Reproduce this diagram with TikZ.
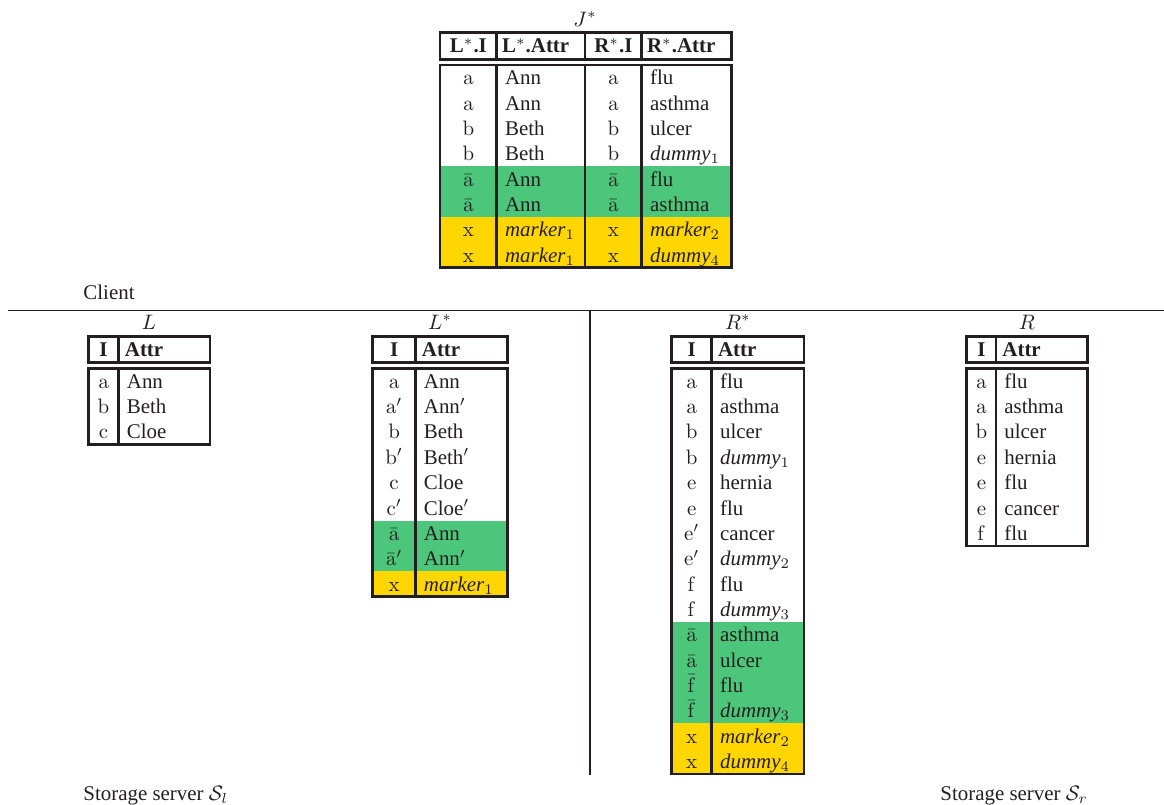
\documentclass[tikz,border=0pt]{standalone}
\usepackage[no-math]{fontspec}
\setmainfont{Liberation Serif}
\usepackage{amsmath}
\usepackage{tikz}
\usepackage{xcolor}
\definecolor{padgreen}{HTML}{4CC67A}
\definecolor{markyellow}{HTML}{FFD600}
\definecolor{ink}{HTML}{231F20}
\newcommand{\tv}[1]{\ensuremath{\mathrm{#1}}}
\newcommand{\tb}[1]{\ensuremath{\bar{\mathrm{#1}}}}
\newcommand{\dmy}[1]{\textit{dummy}$_{#1}$}
\newcommand{\mkr}[1]{\textit{marker}$_{#1}$}

\begin{document}
\begin{tikzpicture}[x=0.478pt, y=-0.478pt, ink,
    box/.style={line width=1.25pt},
    sep/.style={line width=0.9pt},
    idc/.style={anchor=base, inner sep=0pt},
    atc/.style={anchor=base west, inner sep=0pt},
    hd/.style={anchor=base, inner sep=0pt, font=\bfseries}]
    \useasboundingbox (0,0) rectangle (1164,805);
    % join J*
    \node[idc] (tJ) at (585,26) {$J^*$};
    \draw[box] (440,32.3) rectangle (731.7,59.3) (496.7,32.3) -- (496.7,59.3) (585,32.3) -- (585,59.3) (641.7,32.3) -- (641.7,59.3);
    \node[hd] (J-h1) at (468.4,52.8) {L$^*$.I};
    \node[hd, anchor=base west] (J-h2) at (501.7,52.8) {L$^*$.Attr};
    \node[hd] (J-h3) at (613.4,52.8) {R$^*$.I};
    \node[hd, anchor=base west] (J-h4) at (646.7,52.8) {R$^*$.Attr};
    \fill[padgreen] (440,166.4) rectangle (731.7,217.1);
    \fill[markyellow] (440,217.1) rectangle (731.7,267.8);
    \draw[box] (440,65) rectangle (731.7,267.8) (496.7,65) -- (496.7,267.8) (585,65) -- (585,267.8) (641.7,65) -- (641.7,267.8);
    \foreach \i/\la/\lv/\ra/\rv in {1/\tv{a}/Ann/\tv{a}/flu, 2/\tv{a}/Ann/\tv{a}/asthma, 3/\tv{b}/Beth/\tv{b}/ulcer, 4/\tv{b}/Beth/\tv{b}/\dmy{1},
        5/\tb{a}/Ann/\tb{a}/flu, 6/\tb{a}/Ann/\tb{a}/asthma, 7/\tv{x}/\mkr{1}/\tv{x}/\mkr{2}, 8/\tv{x}/\mkr{1}/\tv{x}/\dmy{4}} {
      \node[idc] (J-a\i) at (468.4,{65+25.35*\i-5.6}) {\la};
      \node[atc] (J-b\i) at (504.7,{65+25.35*\i-5.6}) {\lv};
      \node[idc] (J-c\i) at (613.4,{65+25.35*\i-5.6}) {\ra};
      \node[atc] (J-d\i) at (649.7,{65+25.35*\i-5.6}) {\rv};
    }
    % client / servers
    \node[anchor=base west, inner sep=0pt] (client) at (83,299) {Client};
    \draw[sep] (8,310.5) -- (1164,310.5);
    \draw[sep] (590,310.5) -- (590,775);
    \node[anchor=base west, inner sep=0pt] (srvl) at (83,800) {Storage server $\mathcal{S}_l$};
    \node[anchor=base west, inner sep=0pt] (srvr) at (940,800) {Storage server $\mathcal{S}_r$};
    % L
    \node[idc] (tL) at (149,329) {$L$};
    \draw[box] (88.5,336.7) rectangle (210,362.7) (118.5,336.7) -- (118.5,362.7);
    \node[hd] (L-h1) at (103.5,356.2) {I};
    \node[hd, anchor=base west] (L-h2) at (124.5,356.2) {Attr};
    \draw[box] (88.5,368.5) rectangle (210,444.6) (118.5,368.5) -- (118.5,444.6);
    \foreach \i/\k/\v in {1/\tv{a}/Ann, 2/\tv{b}/Beth, 3/\tv{c}/Cloe} {
      \node[idc] (L-a\i) at (103.5,{368.5+25.35*\i-5.6}) {\k};
      \node[atc] (L-b\i) at (126.5,{368.5+25.35*\i-5.6}) {\v};
    }
    % L*
    \node[idc] (tLs) at (440,329) {$L^*$};
    \draw[box] (372.7,336.7) rectangle (507.7,362.7) (415.5,336.7) -- (415.5,362.7);
    \node[hd] (Ls-h1) at (394.1,356.2) {I};
    \node[hd, anchor=base west] (Ls-h2) at (421.5,356.2) {Attr};
    \fill[padgreen] (372.7,520.6) rectangle (507.7,571.3);
    \fill[markyellow] (372.7,571.3) rectangle (507.7,596.65);
    \draw[box] (372.7,368.5) rectangle (507.7,596.65) (415.5,368.5) -- (415.5,596.65);
    \foreach \i/\k/\v in {1/\tv{a}/Ann, 2/\tv{a'}/Ann$'$, 3/\tv{b}/Beth, 4/\tv{b'}/Beth$'$, 5/\tv{c}/Cloe, 6/\tv{c'}/Cloe$'$,
        7/\tb{a}/Ann, 8/\tb{a}$'$/Ann$'$, 9/\tv{x}/\mkr{1}} {
      \node[idc] (Ls-a\i) at (394.1,{368.5+25.35*\i-5.6}) {\k};
      \node[atc] (Ls-b\i) at (423.5,{368.5+25.35*\i-5.6}) {\v};
    }
    % R*
    \node[idc] (tRs) at (738,329) {$R^*$};
    \draw[box] (671.7,336.7) rectangle (804,362.7) (711.7,336.7) -- (711.7,362.7);
    \node[hd] (Rs-h1) at (691.7,356.2) {I};
    \node[hd, anchor=base west] (Rs-h2) at (717.7,356.2) {Attr};
    \fill[padgreen] (671.7,622) rectangle (804,723.4);
    \fill[markyellow] (671.7,723.4) rectangle (804,774.1);
    \draw[box] (671.7,368.5) rectangle (804,774.1) (711.7,368.5) -- (711.7,774.1);
    \foreach \i/\k/\v in {1/\tv{a}/flu, 2/\tv{a}/asthma, 3/\tv{b}/ulcer, 4/\tv{b}/\dmy{1}, 5/\tv{e}/hernia, 6/\tv{e}/flu,
        7/\tv{e'}/cancer, 8/\tv{e'}/\dmy{2}, 9/\tv{f}/flu, 10/\tv{f}/\dmy{3}, 11/\tb{a}/asthma, 12/\tb{a}/ulcer,
        13/\tb{f}/flu, 14/\tb{f}/\dmy{3}, 15/\tv{x}/\mkr{2}, 16/\tv{x}/\dmy{4}} {
      \node[idc] (Rs-a\i) at (691.7,{368.5+25.35*\i-5.6}) {\k};
      \node[atc] (Rs-b\i) at (719.7,{368.5+25.35*\i-5.6}) {\v};
    }
    % R
    \node[idc] (tR) at (1027,329) {$R$};
    \draw[box] (966.7,336.7) rectangle (1087.7,362.7) (996,336.7) -- (996,362.7);
    \node[hd] (R-h1) at (981.4,356.2) {I};
    \node[hd, anchor=base west] (R-h2) at (1002,356.2) {Attr};
    \draw[box] (966.7,368.5) rectangle (1087.7,545.95) (996,368.5) -- (996,545.95);
    \foreach \i/\k/\v in {1/\tv{a}/flu, 2/\tv{a}/asthma, 3/\tv{b}/ulcer, 4/\tv{e}/hernia, 5/\tv{e}/flu, 6/\tv{e}/cancer, 7/\tv{f}/flu} {
      \node[idc] (R-a\i) at (981.4,{368.5+25.35*\i-5.6}) {\k};
      \node[atc] (R-b\i) at (1004,{368.5+25.35*\i-5.6}) {\v};
    }
\end{tikzpicture}
\end{document}
